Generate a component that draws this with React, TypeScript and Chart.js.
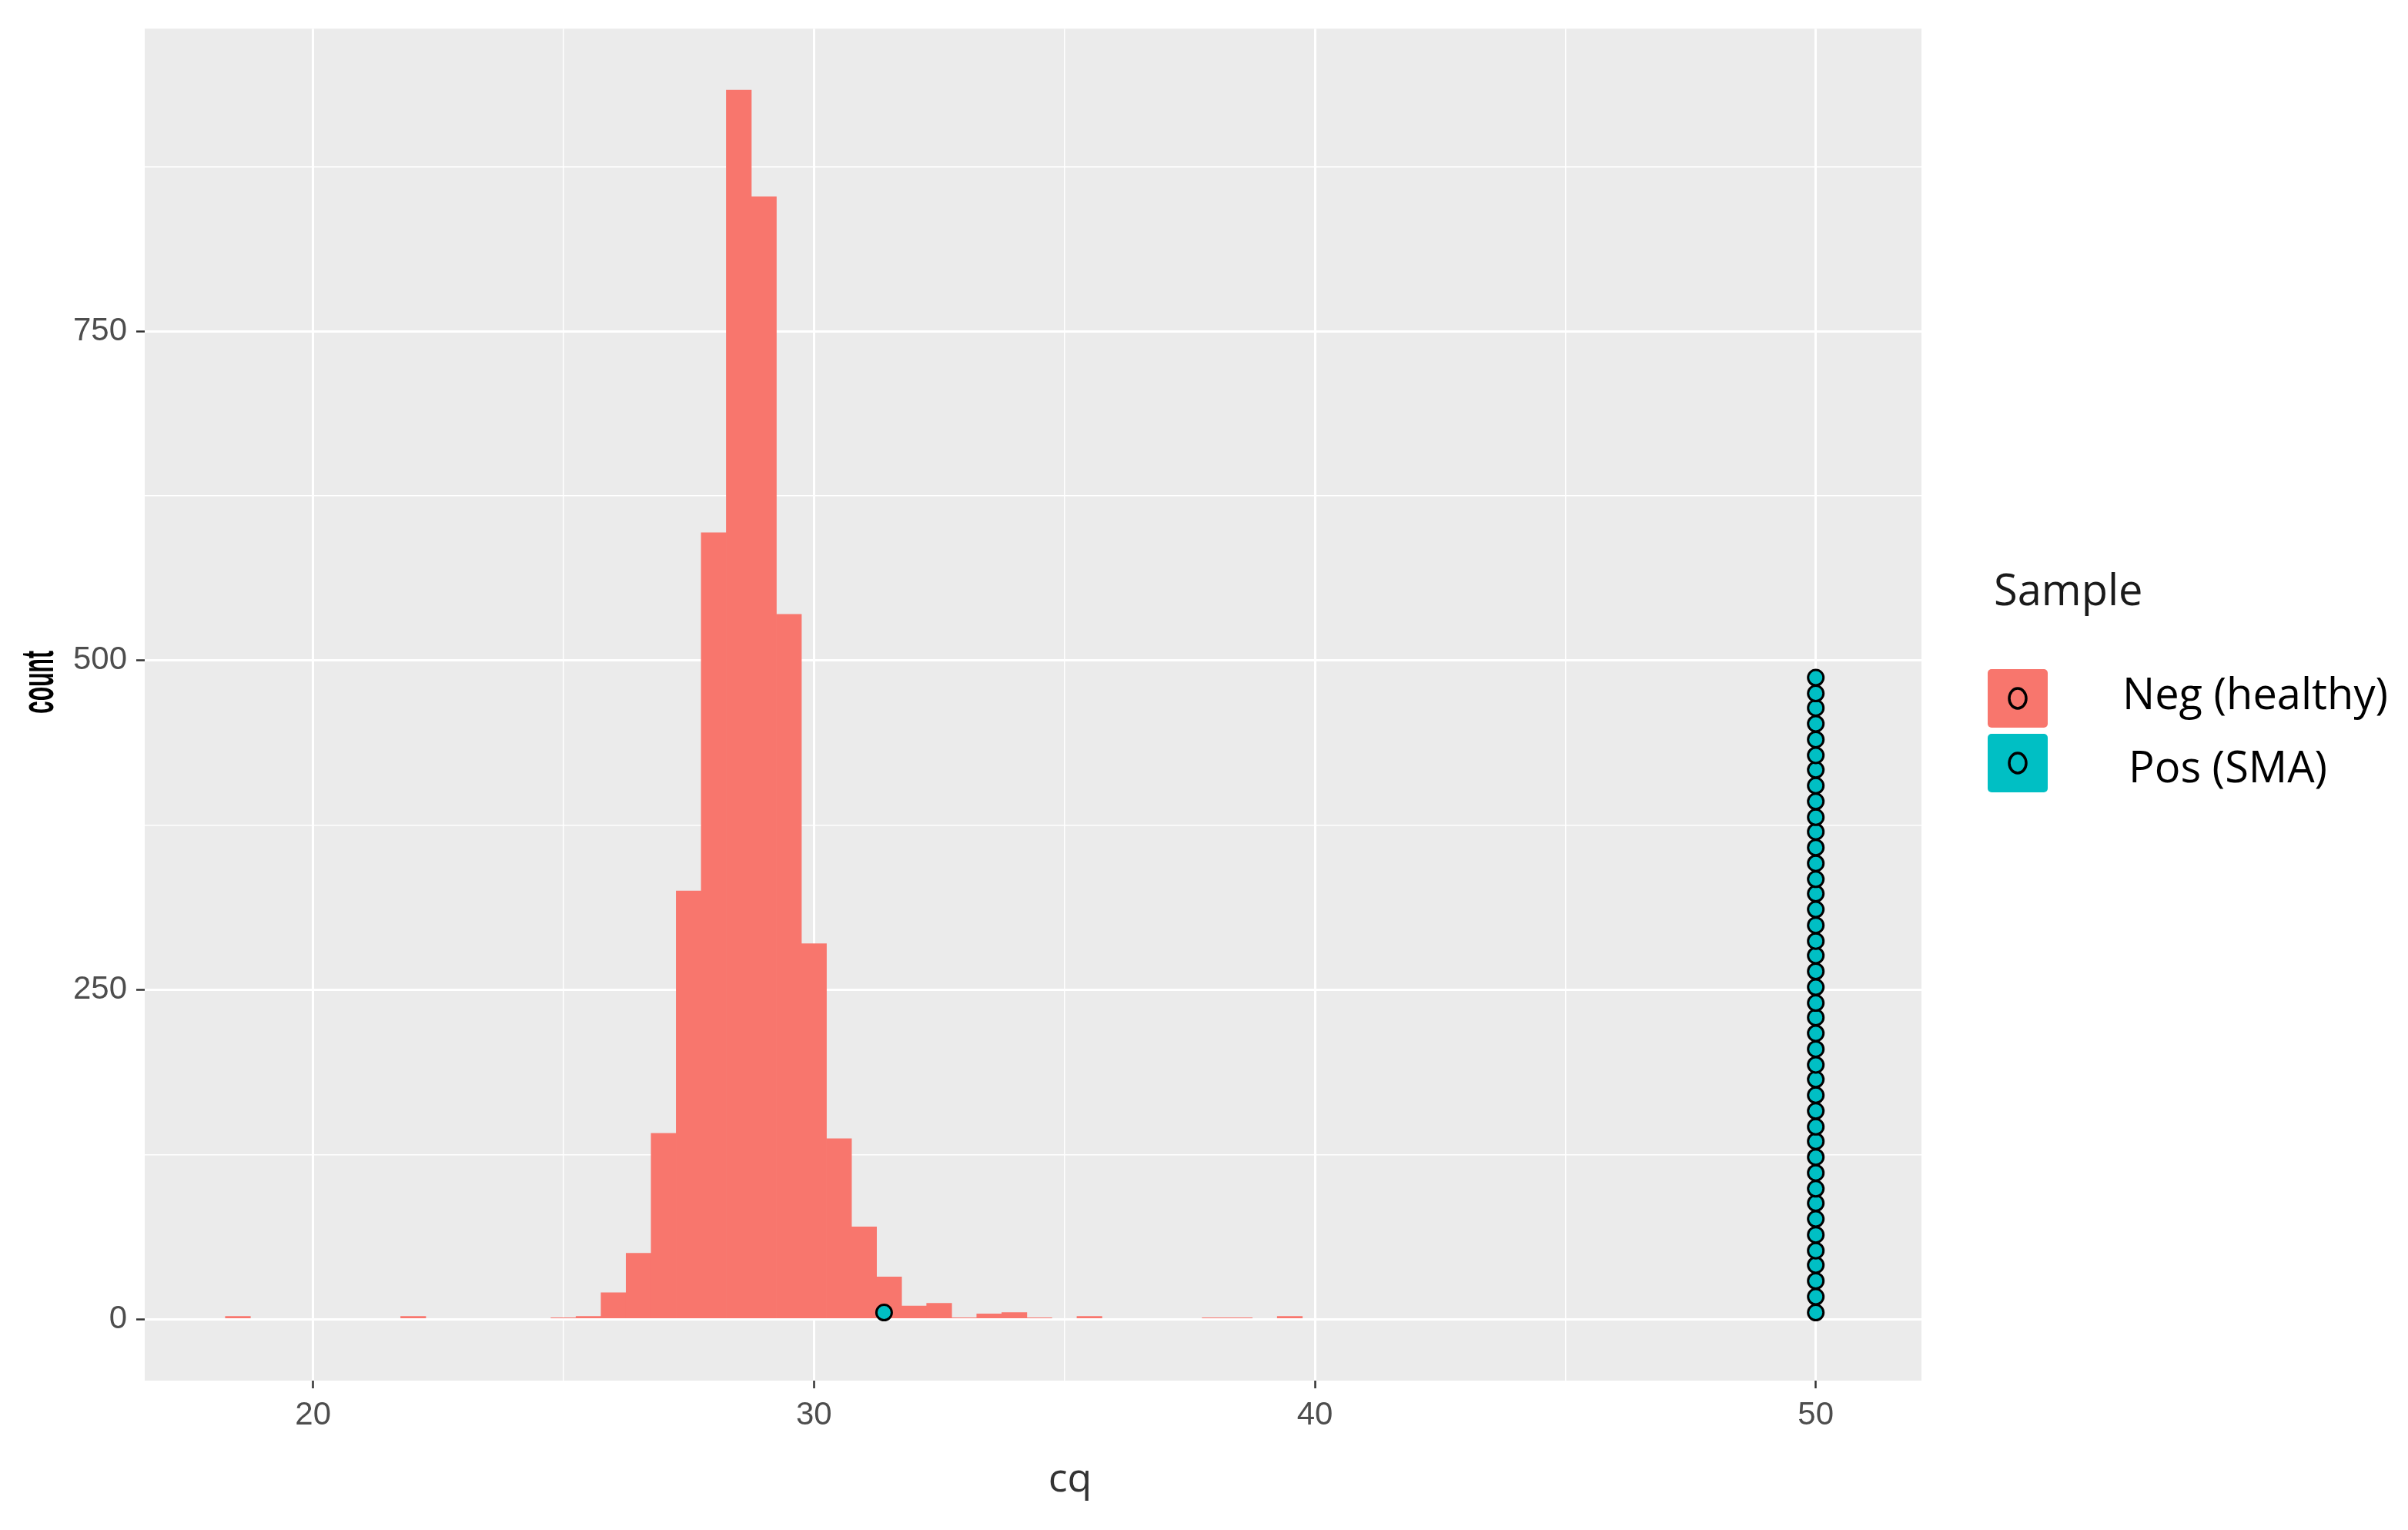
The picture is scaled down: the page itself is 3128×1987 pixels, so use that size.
import React, { useEffect, useRef } from "react";
import { Chart, registerables } from "chart.js";

Chart.register(...registerables);

// ---- data ----
const binCenters = [
  18.5, 19, 19.5, 20, 20.5, 21, 21.5, 22, 22.5, 23, 23.5, 24, 24.5, 25, 25.5,
  26, 26.5, 27, 27.5, 28, 28.5, 29, 29.5, 30, 30.5, 31, 31.5, 32, 32.5, 33,
  33.5, 34, 34.5, 35, 35.5, 36, 36.5, 37, 37.5, 38, 38.5, 39, 39.5,
];
const negCounts = [
  2, 0, 0, 0, 0, 0, 0, 2, 0, 0, 0, 0, 0, 1, 2,
  20, 50, 141, 325, 597, 933, 852, 535, 285, 137, 70, 32, 10, 12, 1,
  4, 5, 1, 0, 2, 0, 0, 0, 0, 1, 1, 0, 2,
];
const posStackCq = 50;
const posStackCounts = [
  5, 17, 29, 41, 52, 64, 76, 88, 99, 111,
  123, 135, 146, 158, 170, 182, 193, 205, 217, 229,
  240, 252, 264, 276, 287, 299, 311, 323, 334, 346,
  358, 370, 381, 393, 405, 417, 428, 440, 452, 464,
  475, 487,
];
const posOutlierCq = [31.4];
const posOutlierCounts = [5];

const xMajorTicks = [20, 30, 40, 50];
const xMinorTicks = [25, 35, 45];
const yMajorTicks = [0, 250, 500, 750];
const yMinorTicks = [125, 375, 625, 875];

const xTitle = "cq";
const yTitle = "count";
const legendTitle = "Sample";
const seriesNames = ["Neg (healthy)", "Pos (SMA)"];
const seriesColors = ["#F8766D", "#00BFC4"];

const W = 3128;
const H = 1987;

const panelPlugin = {
  id: "panelBg",
  beforeDraw(chart: any) {
    const { ctx, chartArea: a } = chart;
    ctx.save();
    ctx.fillStyle = "#EBEBEB";
    ctx.fillRect(a.left, a.top, a.right - a.left, a.bottom - a.top);
    ctx.restore();
  },
};

const decorPlugin = {
  id: "decor",
  afterDraw(chart: any) {
    const { ctx, chartArea: a } = chart;
    ctx.save();
    // y title (squat, bold as in the reference)
    ctx.save();
    ctx.translate(52, 886);
    ctx.rotate(-Math.PI / 2);
    ctx.font = 'bold 60px "Liberation Sans"';
    const tw = ctx.measureText(yTitle).width;
    ctx.scale(82 / tw, 1);
    ctx.textAlign = "center";
    ctx.textBaseline = "middle";
    ctx.fillStyle = "#000000";
    ctx.fillText(yTitle, 0, 0);
    ctx.restore();

    // x title
    ctx.font = '52px "Open Sans"';
    ctx.textAlign = "center";
    ctx.textBaseline = "middle";
    ctx.fillStyle = "#333333";
    ctx.fillText(xTitle, (a.left + a.right) / 2 + 48, 1922);

    // legend
    const lx = a.right + 86;
    ctx.textAlign = "left";
    ctx.fillStyle = "#1A1A1A";
    ctx.font = '56px "Open Sans"';
    ctx.fillText(legendTitle, a.right + 94, 770);

    const keyYs = [869, 953];
    const labelX = [a.right + 261, a.right + 269];
    const labelY = [905, 1000];
    for (let i = 0; i < seriesNames.length; i++) {
      const y0 = keyYs[i];
      ctx.fillStyle = seriesColors[i];
      ctx.beginPath();
      (ctx as any).roundRect(lx, y0, 78, 76, 5);
      ctx.fill();
      ctx.beginPath();
      ctx.ellipse(lx + 39, y0 + 38, 11, 13, 0, 0, Math.PI * 2);
      ctx.lineWidth = 3.5;
      ctx.strokeStyle = "#000000";
      ctx.stroke();
      ctx.fillStyle = "#000000";
      ctx.font = '56px "Open Sans"';
      ctx.fillText(seriesNames[i], labelX[i], labelY[i]);
    }
    ctx.restore();
  },
};

function isIn(arr: number[], v: number) {
  return arr.some((t) => Math.abs(t - v) < 1e-9);
}

export default function App() {
  const ref = useRef<HTMLCanvasElement | null>(null);

  useEffect(() => {
    if (!ref.current) return;
    const xTicksAll = [...xMajorTicks, ...xMinorTicks].sort((a, b) => a - b);
    const yTicksAll = [...yMajorTicks, ...yMinorTicks].sort((a, b) => a - b);

    const posData = [
      ...posOutlierCq.map((x, i) => ({ x, y: posOutlierCounts[i] })),
      ...posStackCounts.map((y) => ({ x: posStackCq, y })),
    ];

    const chart = new Chart(ref.current, {
      type: "scatter",
      data: {
        datasets: [
          {
            type: "scatter",
            label: seriesNames[1],
            data: posData,
            backgroundColor: seriesColors[1],
            borderColor: "#000000",
            borderWidth: 3,
            pointRadius: 10,
            order: 0,
          } as any,
          {
            type: "bar",
            label: seriesNames[0],
            data: binCenters.map((x, i) => ({ x, y: negCounts[i] })),
            backgroundColor: (c: any) =>
              c.raw && c.raw.y > 0 ? seriesColors[0] : "rgba(0,0,0,0)",
            borderWidth: 0,
            barPercentage: 1,
            categoryPercentage: 1,
            order: 1,
          } as any,
        ],
      },
      options: {
        animation: false,
        responsive: false,
        events: [],
        layout: { padding: { left: 0, top: 29, right: W - 2496, bottom: 0 } },
        plugins: { legend: { display: false }, tooltip: { enabled: false } },
        scales: {
          x: {
            type: "linear",
            min: 16.64,
            max: 52.11,
            offset: false,
            afterBuildTicks: (s: any) => {
              s.ticks = xTicksAll.map((v) => ({ value: v }));
            },
            afterFit: (s: any) => {
              s.height = H - 1793;
            },
            border: { display: false },
            grid: {
              offset: false,
              color: "#FFFFFF",
              lineWidth: (c: any) => (isIn(xMajorTicks, c.tick?.value) ? 3 : 1.5),
              tickColor: (c: any) =>
                isIn(xMajorTicks, c.tick?.value) ? "#333333" : "rgba(0,0,0,0)",
              tickLength: 10,
              tickWidth: 2.5,
            },
            ticks: {
              autoSkip: false,
              maxRotation: 0,
              padding: 10,
              color: "#4D4D4D",
              font: { family: "Liberation Sans", size: 42 },
              callback: (v: any) => (isIn(xMajorTicks, Number(v)) ? String(v) : ""),
            },
          },
          y: {
            type: "linear",
            min: -46.7,
            max: 979.7,
            afterBuildTicks: (s: any) => {
              s.ticks = yTicksAll.map((v) => ({ value: v }));
            },
            afterFit: (s: any) => {
              s.width = 188;
            },
            border: { display: false },
            grid: {
              color: "#FFFFFF",
              lineWidth: (c: any) => (isIn(yMajorTicks, c.tick?.value) ? 3 : 1.5),
              tickColor: (c: any) =>
                isIn(yMajorTicks, c.tick?.value) ? "#333333" : "rgba(0,0,0,0)",
              tickLength: 11,
              tickWidth: 2.5,
            },
            ticks: {
              autoSkip: false,
              padding: 12,
              color: "#4D4D4D",
              font: { family: "Liberation Sans", size: 42 },
              callback: (v: any) => (isIn(yMajorTicks, Number(v)) ? String(v) : ""),
            },
          },
        },
      },
      plugins: [panelPlugin, decorPlugin],
    } as any);

    return () => chart.destroy();
  }, []);

  return (
    <div
      style={{
        position: "absolute",
        left: 0,
        top: 0,
        width: W,
        height: H,
        background: "#FFFFFF",
      }}
    >
      <canvas ref={ref} width={W} height={H} style={{ width: W, height: H, display: "block" }} />
    </div>
  );
}
